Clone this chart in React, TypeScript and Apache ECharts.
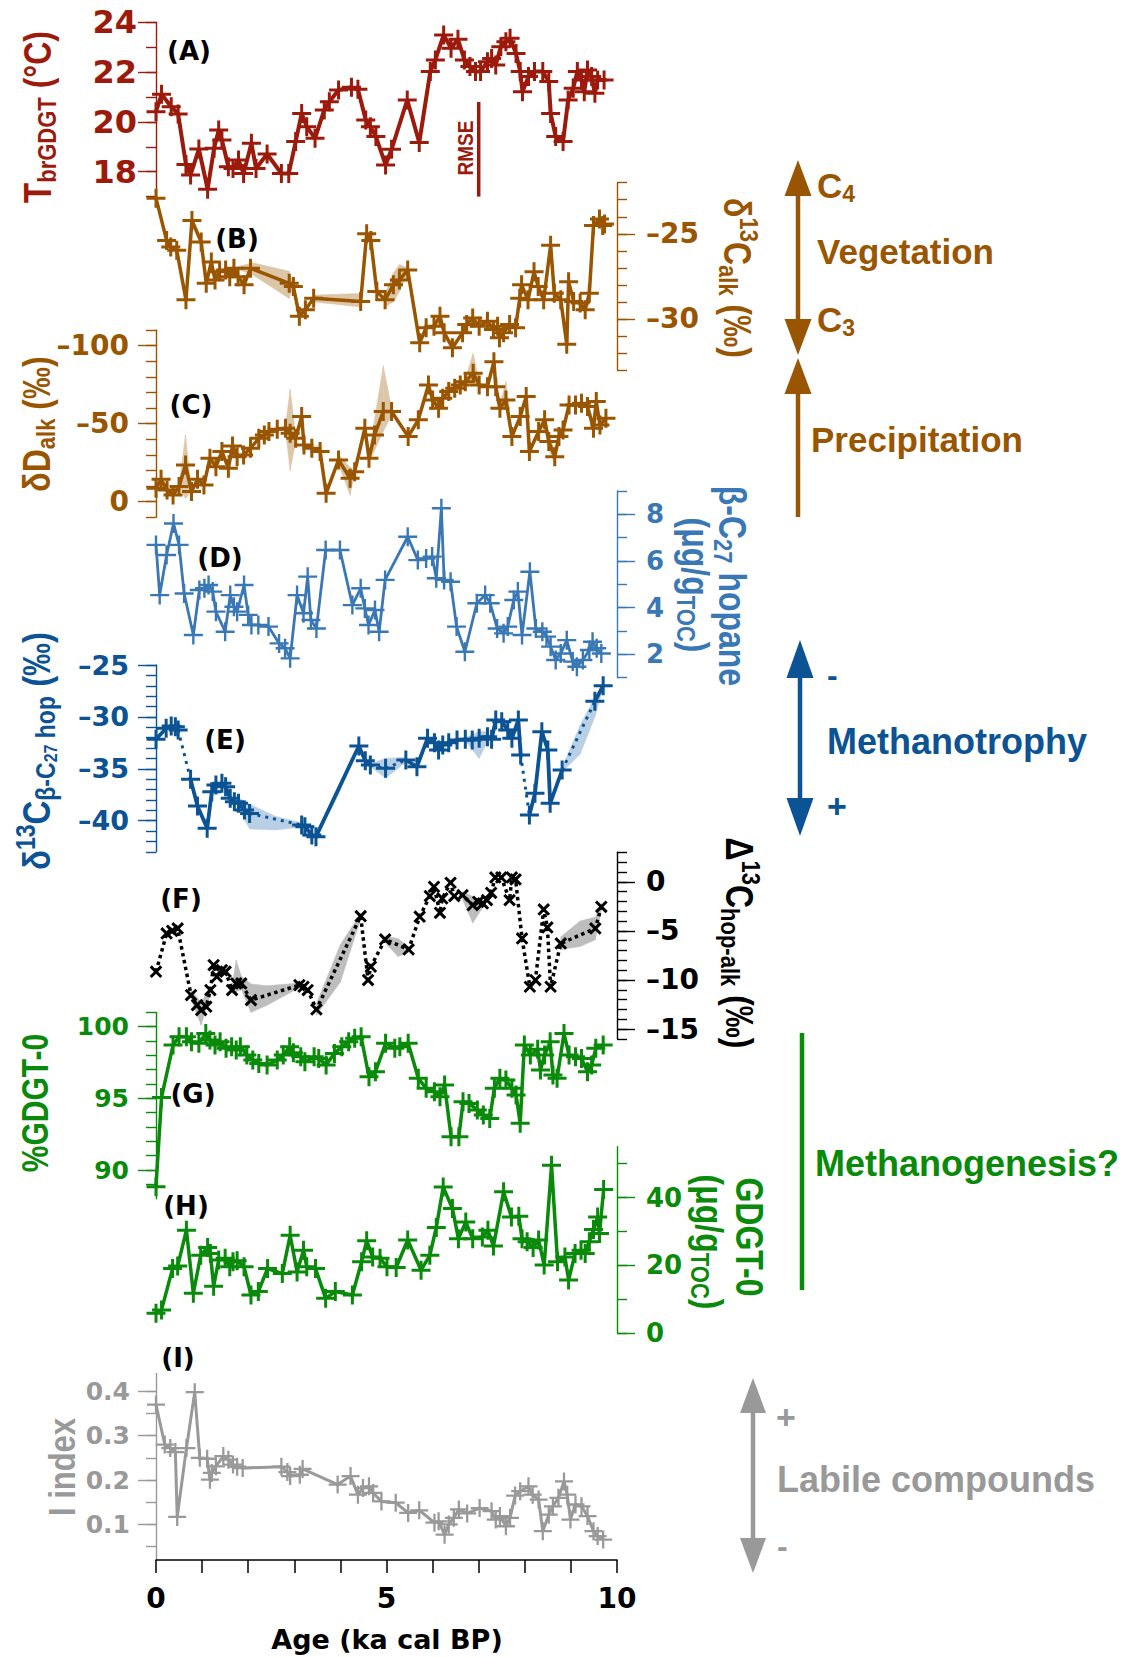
import React, { useEffect, useRef } from 'react';
import * as echarts from 'echarts';

const W = 1129;
const H = 1658;

// ---------- data (age ka cal BP, value) ----------
const A_DATA = [[0.00,20.41],[0.12,21.11],[0.33,20.61],[0.48,20.32],[0.65,18.29],[0.75,17.87],[0.93,18.91],[1.12,17.30],[1.26,18.94],[1.36,19.67],[1.43,19.27],[1.57,18.20],[1.67,18.13],[1.79,18.47],[1.90,17.93],[2.07,19.14],[2.17,18.13],[2.41,18.71],[2.72,17.93],[2.88,17.93],[3.03,19.21],[3.16,20.34],[3.27,19.81],[3.45,19.34],[3.65,20.48],[3.76,20.81],[3.96,21.28],[4.24,21.39],[4.38,21.31],[4.55,20.08],[4.65,19.81],[4.77,19.41],[4.98,18.27],[5.11,18.90],[5.45,20.88],[5.71,19.17],[5.95,22.02],[6.06,22.49],[6.24,23.49],[6.40,22.96],[6.55,23.32],[6.69,22.49],[6.81,22.22],[6.93,22.02],[7.04,22.02],[7.19,22.42],[7.28,22.55],[7.37,22.29],[7.48,23.02],[7.59,23.22],[7.68,23.36],[7.81,22.75],[7.90,22.02],[7.95,21.21],[8.08,21.82],[8.21,22.02],[8.39,22.02],[8.52,21.62],[8.56,20.34],[8.67,19.41],[8.83,19.21],[8.94,20.88],[9.05,21.35],[9.14,22.02],[9.23,21.68],[9.29,21.21],[9.36,22.08],[9.45,21.82],[9.52,21.15],[9.58,21.68],[9.72,21.68]];
const RMSE_AGE = [7.0, 7.0];
const RMSE_VAL = [20.8, 17.0];

const B_DATA = [[0.00,-22.91],[0.23,-25.39],[0.32,-25.78],[0.45,-25.97],[0.65,-28.88],[0.78,-24.22],[0.98,-25.48],[1.09,-27.91],[1.20,-26.65],[1.28,-27.71],[1.38,-27.23],[1.51,-27.13],[1.60,-27.52],[1.69,-27.03],[1.78,-27.52],[1.91,-28.00],[2.05,-27.03],[2.89,-27.91],[2.98,-28.10],[3.11,-29.84],[3.24,-29.46],[3.42,-28.78],[4.44,-28.97],[4.57,-25.00],[4.66,-25.39],[4.79,-28.39],[4.97,-28.88],[5.15,-28.00],[5.28,-27.71],[5.46,-27.13],[5.72,-31.40],[5.86,-30.52],[6.03,-30.43],[6.16,-29.84],[6.25,-30.81],[6.43,-31.69],[6.65,-30.81],[6.74,-30.33],[6.87,-29.94],[7.01,-30.43],[7.19,-30.14],[7.32,-30.62],[7.41,-30.43],[7.45,-31.10],[7.54,-30.81],[7.67,-30.33],[7.80,-30.52],[7.89,-28.78],[7.93,-28.00],[8.07,-28.88],[8.20,-27.23],[8.29,-28.10],[8.41,-28.88],[8.56,-25.68],[8.64,-28.49],[8.78,-28.88],[8.91,-31.49],[8.95,-27.81],[9.06,-28.97],[9.20,-29.07],[9.31,-29.46],[9.40,-28.49],[9.49,-24.52],[9.62,-24.13],[9.69,-24.52],[9.73,-24.42]];
const B_BAND = [[1.69,-27.0,-27.0],[2.09,-26.7,-27.4],[2.89,-27.2,-28.8],[2.98,-28.1,-28.1],null,[3.42,-28.6,-29.0],[4.44,-28.5,-29.3],null,[4.97,-28.5,-29.3],[5.15,-27.3,-29.0],[5.28,-26.8,-28.4],[5.46,-27.0,-27.3]];

const C_DATA = [[0.00,-8.5],[0.11,-14.3],[0.24,-7.5],[0.37,-4.3],[0.50,-9.6],[0.64,-23.5],[0.77,-6.4],[0.90,-14.3],[1.04,-10.7],[1.17,-27.8],[1.30,-22.4],[1.43,-32.1],[1.57,-21.4],[1.66,-35.7],[1.76,-28.8],[1.90,-29.9],[2.05,-34.2],[2.23,-40.6],[2.35,-42.7],[2.45,-44.9],[2.63,-46.4],[2.81,-47.0],[2.91,-43.8],[3.03,-40.6],[3.16,-54.5],[3.21,-36.3],[3.38,-34.2],[3.56,-32.1],[3.69,-5.3],[3.96,-26.7],[4.21,-15.0],[4.31,-19.2],[4.53,-47.0],[4.62,-27.8],[4.74,-42.7],[4.93,-57.7],[5.11,-57.7],[5.47,-41.7],[5.69,-52.4],[5.91,-74.8],[6.00,-65.2],[6.13,-59.8],[6.22,-66.2],[6.35,-70.5],[6.48,-72.6],[6.60,-74.8],[6.71,-76.9],[6.88,-82.3],[7.01,-74.8],[7.19,-73.7],[7.33,-89.7],[7.37,-73.7],[7.46,-59.8],[7.59,-65.2],[7.72,-41.7],[7.90,-54.5],[8.03,-67.3],[8.10,-32.1],[8.30,-44.9],[8.43,-52.4],[8.52,-38.5],[8.65,-28.8],[8.74,-41.7],[8.83,-45.9],[8.96,-62.0],[9.10,-62.0],[9.23,-63.0],[9.36,-60.9],[9.49,-47.0],[9.55,-64.1],[9.63,-49.1],[9.76,-53.4]];
const C_BAND = [[0.50,-9.6,-9.6],[0.64,-2,-43],[0.77,-6.4,-6.4],null,[2.81,-45,-49],[2.91,-20,-72],[3.03,-38,-43],null,[3.96,-24,-30],[4.21,-4,-22],[4.31,-18,-20],null,[4.62,-25,-31],[4.93,-45,-87],[5.11,-55,-60],null,[6.71,-75,-79],[6.88,-78,-95],[7.01,-73,-77],null,[7.46,-57,-62],[7.59,-62,-77],[7.72,-40,-44],null,[8.43,-48,-56],[8.52,-33,-44],[8.65,-24,-33],null,[9.36,-58,-63],[9.49,-43,-52],[9.55,-62,-68]];

const D_DATA = [[0.00,6.69],[0.08,4.54],[0.23,6.26],[0.38,7.61],[0.50,6.69],[0.61,4.61],[0.81,2.83],[0.94,4.76],[1.05,4.83],[1.14,4.97],[1.23,4.69],[1.30,3.83],[1.50,2.97],[1.61,4.54],[1.69,4.04],[1.76,3.83],[1.91,4.97],[2.00,3.69],[2.07,3.26],[2.22,3.26],[2.44,3.19],[2.67,2.47],[2.80,2.26],[2.91,1.83],[3.06,4.54],[3.20,3.76],[3.29,5.33],[3.36,3.47],[3.48,3.11],[3.68,6.47],[3.99,6.47],[4.26,4.11],[4.44,4.83],[4.53,3.97],[4.61,3.26],[4.75,3.90],[4.84,2.97],[4.97,5.19],[5.46,7.04],[5.68,6.04],[5.86,6.11],[5.99,6.19],[6.08,5.26],[6.19,8.26],[6.25,5.19],[6.39,5.11],[6.52,3.19],[6.70,2.11],[6.96,4.19],[7.14,4.54],[7.25,4.19],[7.40,3.11],[7.54,2.90],[7.63,3.19],[7.76,4.33],[7.85,4.69],[7.94,2.83],[8.11,5.54],[8.24,3.11],[8.38,2.97],[8.47,2.76],[8.56,2.33],[8.67,1.76],[8.78,2.04],[8.91,2.61],[9.04,1.69],[9.13,1.47],[9.26,1.76],[9.40,2.19],[9.47,2.54],[9.56,2.26],[9.66,2.04]];

const E_DATA = [[0.00,-32.16],[0.22,-31.10],[0.33,-30.88],[0.42,-30.94],[0.48,-31.26],[0.75,-36.02],[0.90,-38.59],[1.11,-40.74],[1.21,-37.21],[1.30,-36.56],[1.43,-36.40],[1.51,-36.73],[1.61,-37.85],[1.70,-38.17],[1.79,-38.33],[1.92,-38.97],[2.03,-39.30],[3.16,-40.42],[3.23,-40.58],[3.38,-41.38],[3.47,-41.54],[4.40,-32.81],[4.54,-34.22],[4.65,-34.64],[4.98,-34.96],[5.42,-34.16],[5.66,-34.80],[5.89,-32.07],[6.04,-32.48],[6.13,-33.19],[6.22,-32.71],[6.35,-32.48],[6.53,-32.23],[6.71,-32.16],[6.86,-32.23],[7.01,-32.07],[7.19,-31.91],[7.28,-32.16],[7.37,-30.30],[7.50,-30.46],[7.63,-31.26],[7.72,-32.07],[7.86,-30.30],[7.91,-33.67],[8.10,-39.46],[8.22,-37.37],[8.37,-31.42],[8.50,-33.19],[8.55,-38.33],[8.81,-35.12],[9.52,-28.50],[9.70,-27.00]];
const E_DOTTED_AFTER = [4, 16, 23, 24, 43, 49];
const E_BAND = [[1.79,-37.8,-38.8],[2.03,-38.4,-40.8],[2.6,-39.6,-40.9],[3.16,-40.2,-40.6],null,[3.47,-41.4,-41.6],[3.95,-36.9,-37.6],[4.40,-32.7,-32.9],null,[4.65,-34.5,-34.8],[4.98,-34.0,-35.9],[5.42,-33.9,-34.4],null,[6.71,-32.0,-32.3],[7.01,-31.4,-34.0],[7.19,-31.4,-32.4],null,[8.81,-34.9,-35.3],[9.2,-30.8,-33.6],[9.52,-28.1,-30.0],[9.70,-26.8,-27.2]];

const F_DATA = [[0.00,-9.16],[0.23,-5.26],[0.35,-4.99],[0.47,-4.75],[0.76,-11.54],[0.89,-12.56],[0.98,-13.06],[1.09,-12.72],[1.18,-11.03],[1.25,-8.48],[1.32,-9.67],[1.43,-8.99],[1.51,-9.16],[1.65,-11.03],[1.74,-10.35],[1.85,-10.35],[2.06,-12.05],[3.11,-10.52],[3.20,-10.69],[3.29,-11.03],[3.48,-13.00],[4.44,-3.50],[4.60,-10.01],[4.66,-8.65],[4.97,-5.87],[5.48,-6.89],[5.72,-3.56],[5.94,-1.46],[6.03,-0.51],[6.16,-3.16],[6.21,-1.70],[6.39,-0.10],[6.47,-1.46],[6.65,-1.36],[6.87,-2.38],[6.99,-2.04],[7.09,-2.21],[7.18,-1.87],[7.27,-1.12],[7.36,0.44],[7.49,0.44],[7.67,-1.87],[7.72,0.44],[7.80,0.24],[7.94,-5.77],[8.11,-10.69],[8.23,-10.01],[8.41,-2.82],[8.49,-4.65],[8.56,-10.69],[8.78,-6.28],[9.53,-4.75],[9.66,-2.55]];
const F_BAND = [[0.76,-11.0,-12.0],[0.98,-12.3,-14.6],[1.18,-10.6,-11.5],null,[1.65,-10.6,-11.4],[1.74,-8.0,-11.2],[1.85,-9.6,-11.0],[2.06,-10.4,-13.3],[2.4,-10.6,-12.6],[3.11,-10.3,-10.8],null,[3.48,-12.4,-13.6],[4.0,-6.4,-10.2],[4.44,-3.2,-3.8],null,[4.97,-5.5,-6.2],[5.25,-5.8,-7.6],[5.48,-6.6,-7.2],null,[6.65,-1.0,-1.8],[6.87,-1.5,-4.2],[7.09,-1.9,-2.6],null,[8.78,-5.6,-6.9],[9.2,-4.0,-6.6],[9.53,-3.6,-5.9],[9.66,-2.2,-2.9]];

const G_DATA = [[0.00,88.84],[0.12,95.07],[0.37,98.72],[0.50,99.30],[0.66,99.30],[0.77,98.95],[0.93,98.84],[1.08,99.53],[1.17,99.07],[1.28,98.72],[1.39,98.95],[1.52,98.49],[1.64,98.60],[1.74,98.37],[1.83,98.60],[1.97,98.02],[2.10,97.67],[2.23,97.44],[2.41,97.33],[2.63,97.67],[2.76,98.02],[2.90,98.60],[2.98,98.19],[3.14,97.91],[3.23,97.56],[3.43,97.91],[3.53,97.79],[3.69,97.33],[3.87,98.14],[4.03,98.60],[4.18,98.95],[4.31,99.19],[4.45,99.30],[4.62,96.51],[4.76,96.86],[4.98,98.84],[5.18,98.49],[5.29,98.60],[5.47,98.84],[5.69,96.40],[5.86,95.70],[6.04,95.47],[6.16,95.12],[6.26,95.93],[6.40,92.33],[6.57,92.33],[6.66,94.77],[6.79,94.65],[6.97,94.19],[7.10,93.84],[7.24,93.60],[7.34,95.70],[7.46,96.40],[7.59,96.28],[7.72,95.70],[7.81,95.23],[7.90,93.26],[7.99,98.72],[8.12,98.02],[8.28,98.42],[8.34,96.98],[8.43,98.02],[8.55,98.95],[8.61,96.63],[8.70,96.40],[8.85,99.53],[8.96,98.02],[9.10,97.91],[9.23,97.79],[9.36,96.86],[9.45,97.33],[9.54,98.49],[9.70,98.72]];

const H_DATA = [[0.00,5.9],[0.12,6.9],[0.36,19.1],[0.47,19.8],[0.66,30.4],[0.81,11.8],[0.97,23.0],[1.12,25.3],[1.18,23.5],[1.25,13.9],[1.36,21.6],[1.50,22.1],[1.60,19.6],[1.67,21.1],[1.76,21.4],[1.91,19.6],[2.06,11.3],[2.22,12.3],[2.42,19.1],[2.74,17.6],[2.91,28.9],[3.06,18.1],[3.20,24.5],[3.27,19.6],[3.46,19.1],[3.68,10.3],[3.89,12.3],[4.26,11.3],[4.46,21.1],[4.57,27.3],[4.70,22.5],[4.86,22.1],[5.01,19.6],[5.21,19.4],[5.46,27.5],[5.75,18.6],[5.94,23.0],[6.08,31.2],[6.23,43.1],[6.43,36.8],[6.56,27.9],[6.72,32.8],[6.87,27.9],[7.08,28.4],[7.20,30.4],[7.32,25.7],[7.54,41.7],[7.71,34.3],[7.87,34.5],[7.94,27.9],[8.05,27.0],[8.18,25.3],[8.30,27.5],[8.42,20.1],[8.58,49.5],[8.71,21.1],[8.87,22.5],[8.95,15.7],[9.09,23.5],[9.22,24.5],[9.31,23.5],[9.40,27.0],[9.49,30.6],[9.58,34.3],[9.62,29.4],[9.71,42.4]];

const I_DATA = [[0.00,0.370],[0.19,0.280],[0.31,0.272],[0.42,0.263],[0.46,0.117],[0.66,0.272],[0.84,0.398],[0.95,0.250],[1.11,0.248],[1.17,0.201],[1.21,0.216],[1.30,0.231],[1.46,0.254],[1.57,0.246],[1.67,0.235],[1.76,0.230],[1.88,0.227],[2.72,0.230],[2.85,0.218],[2.91,0.209],[3.12,0.212],[3.18,0.225],[3.94,0.190],[4.22,0.209],[4.38,0.167],[4.49,0.182],[4.62,0.186],[4.71,0.171],[4.89,0.152],[5.20,0.149],[5.47,0.126],[5.71,0.132],[6.04,0.104],[6.13,0.107],[6.26,0.077],[6.35,0.100],[6.46,0.115],[6.57,0.134],[6.75,0.125],[7.02,0.137],[7.28,0.130],[7.37,0.111],[7.46,0.119],[7.59,0.096],[7.68,0.115],[7.79,0.165],[7.90,0.175],[8.08,0.186],[8.17,0.167],[8.30,0.156],[8.39,0.085],[8.52,0.122],[8.61,0.141],[8.73,0.160],[8.85,0.197],[8.92,0.167],[8.99,0.111],[9.10,0.145],[9.23,0.141],[9.36,0.119],[9.49,0.085],[9.58,0.074],[9.70,0.066]];

// ---------- tick labels ----------
const AGE_TICKS = [0,1,2,3,4,5,6,7,8,9,10];
const AGE_LABELS = [0,5,10];
const A_TICKS = [18,20,22,24];
const B_TICKS = [-30,-25];
const C_TICKS = [-100,-50,0];
const D_TICKS = [2,4,6,8];
const E_TICKS = [-40,-35,-30,-25];
const F_TICKS = [-15,-10,-5,0];
const G_TICKS = [90,95,100];
const H_TICKS = [0,20,40];
const I_TICKS = [0.1,0.2,0.3,0.4];

// ---------- styles ----------
const RED = '#9c1a0c';
const BROWN = '#995500';
const BLUE_D = '#3a78b5';
const BLUE_E = '#0b5394';
const GREEN = '#0a8a0a';
const GREY = '#999999';
const BLACK = '#000000';

const GX = 156, GW = 461;

const range = (a: number, b: number, s: number) => {
  const out: number[] = [];
  for (let v = a; v <= b + 1e-9; v += s) out.push(Math.round(v * 1000) / 1000);
  return out;
};

const PANELS = [
  { top: 22.3, bottom: 196.6, min: 17, max: 24, pos: 'left', color: RED, majors: A_TICKS, minors: range(17, 24, 1), inverse: false, margin: 19, fs: 32 },
  { top: 182.7, bottom: 370, min: -33, max: -22, pos: 'right', color: BROWN, majors: B_TICKS, minors: range(-33, -22, 1), inverse: false, margin: 29, fs: 28 },
  { top: 330, bottom: 517.2, min: -110, max: 10, pos: 'left', color: BROWN, majors: C_TICKS, minors: range(-110, 10, 10), inverse: true, margin: 27, fs: 28 },
  { top: 491, bottom: 677.7, min: 1, max: 9, pos: 'right', color: BLUE_D, majors: D_TICKS, minors: range(1, 9, 1), inverse: false, margin: 29, fs: 26 },
  { top: 665, bottom: 851.8, min: -43, max: -25, pos: 'left', color: BLUE_E, majors: E_TICKS, minors: range(-43, -25, 1), inverse: false, margin: 27, fs: 27 },
  { top: 852.3, bottom: 1038.9, min: -16, max: 3, pos: 'right', color: BLACK, majors: F_TICKS, minors: range(-16, 3, 1), inverse: false, margin: 29, fs: 28 },
  { top: 1012.4, bottom: 1198.7, min: 88, max: 101, pos: 'left', color: GREEN, majors: G_TICKS, minors: range(89, 101, 1), inverse: false, margin: 27, fs: 25 },
  { top: 1146.7, bottom: 1333.3, min: 0, max: 55, pos: 'right', color: GREEN, majors: H_TICKS, minors: range(0, 50, 10), inverse: false, margin: 29, fs: 26 },
  { top: 1373.5, bottom: 1560, min: 0.02, max: 0.44, pos: 'left', color: GREY, majors: I_TICKS, minors: range(0.05, 0.4, 0.05), inverse: false, margin: 26, fs: 25 },
];

const PLUS = 'path://M8,0h3v8h8v3h-8v8h-3v-8h-8v-3h8z';
const PLUS_MED = 'path://M8.3,0h2.4v8.3h8.3v2.4h-8.3v8.3h-2.4v-8.3h-8.3v-2.4h8.3z';
const PLUS_BOLD = 'path://M7.6,0h3.8v7.6h7.6v3.8h-7.6v7.6h-3.8v-7.6h-7.6v-3.8h7.6z';

const fmt = (v: number) => (v < 0 ? '\u2013' + Math.abs(v) : String(v));

let measureCtx: CanvasRenderingContext2D | null = null;
const tw = (t: string, size: number, fam: string) => {
  if (!measureCtx) measureCtx = document.createElement('canvas').getContext('2d');
  measureCtx!.font = `bold ${size}px "${fam}"`;
  return measureCtx!.measureText(t).width;
};

type Piece = [string, number, number];
function label(pieces: Piece[], o: { x: number; y: number; rot?: number; color: string; fam?: string; align?: 'left' | 'center'; sx?: number; sy?: number }) {
  const fam = o.fam || 'Liberation Sans';
  let w = 0;
  const kids: any[] = [];
  for (const [t, s, dy] of pieces) {
    kids.push({
      type: 'text', x: w, y: dy,
      style: { text: t, fontSize: s, fontWeight: 'bold', fontFamily: fam, fill: o.color, align: 'left', verticalAlign: 'middle', textAlign: 'left', textVerticalAlign: 'middle' },
    });
    w += tw(t, s, fam);
  }
  const off = o.align === 'left' ? 0 : -w / 2;
  kids.forEach((k) => (k.x += off));
  return { type: 'group', x: o.x, y: o.y, rotation: o.rot || 0, scaleX: o.sx || 1, scaleY: o.sy || 1, silent: true, children: kids };
}

function bandSeries(idx: number, band: (number[] | null)[], color: string) {
  const quads: number[][] = [];
  for (let i = 0; i < band.length - 1; i++) {
    const a = band[i], b = band[i + 1];
    if (!a || !b) continue;
    quads.push([a[0], a[1], a[2], b[0], b[1], b[2]]);
  }
  return {
    type: 'custom', xAxisIndex: idx, yAxisIndex: idx * 2, z: 1, silent: true, clip: false,
    data: quads,
    renderItem: (_p: any, api: any) => {
      const v = (k: number) => api.value(k);
      const pts = [api.coord([v(0), v(1)]), api.coord([v(3), v(4)]), api.coord([v(3), v(5)]), api.coord([v(0), v(2)])];
      return { type: 'polygon', shape: { points: pts }, style: { fill: color, stroke: color, lineWidth: 0.5 } };
    },
  };
}

function lineSeries(idx: number, data: any[], color: string, extra: any = {}) {
  return {
    type: 'line', xAxisIndex: idx, yAxisIndex: idx * 2, data, silent: true, clip: false, z: 3,
    symbol: PLUS, symbolSize: 19, showAllSymbol: true,
    lineStyle: { color, width: 3.5 }, itemStyle: { color },
    ...extra,
  };
}

function buildOption() {
  const grid = PANELS.map((p) => ({ left: GX, width: GW, top: p.top, height: p.bottom - p.top, containLabel: false, outerBoundsMode: 'none' }));
  const xAxis = PANELS.map((_p, i) => ({
    type: 'value', gridIndex: i, min: 0, max: 10, show: i === 8, position: 'bottom',
    axisLine: { show: true, lineStyle: { color: BLACK, width: 1.5 } },
    axisTick: { show: true, customValues: AGE_TICKS, length: 13, lineStyle: { color: BLACK, width: 1.5 } },
    axisLabel: { customValues: AGE_LABELS, fontFamily: 'DejaVu Sans', fontWeight: 'bold', fontSize: 28, color: BLACK, margin: 24 },
    splitLine: { show: false },
  }));
  const yAxis: any[] = [];
  PANELS.forEach((p, i) => {
    const common = { type: 'value', gridIndex: i, min: p.min, max: p.max, inverse: p.inverse, splitLine: { show: false } };
    yAxis.push({
      ...common,
      position: p.pos,
      axisLine: { show: true, onZero: false, lineStyle: { color: p.color, width: 1.4 } },
      axisTick: { show: true, customValues: p.majors, length: 18, lineStyle: { color: p.color, width: 1.4 } },
      axisLabel: { show: true, customValues: p.majors, formatter: fmt, color: p.color, fontFamily: 'DejaVu Sans', fontWeight: 'bold', fontSize: p.fs, margin: p.margin },
    });
    // minor ticks: placed on the opposite side slot, then shifted onto the same edge
    yAxis.push({
      ...common,
      position: p.pos === 'left' ? 'right' : 'left',
      offset: -GW,
      axisLine: { show: false, onZero: false },
      axisTick: { show: true, inside: true, customValues: p.minors, length: 10, lineStyle: { color: p.color, width: 1.4 } },
      axisLabel: { show: false },
    });
  });

  // E: solid segments with breaks + dotted connectors
  const eSolid: any[] = [];
  const eDotted: any[] = [];
  E_DATA.forEach((d, i) => {
    eSolid.push(d);
    if (E_DOTTED_AFTER.includes(i) && i + 1 < E_DATA.length) {
      eSolid.push([d[0], '-']);
      eDotted.push(d, E_DATA[i + 1], [d[0], '-']);
    }
  });

  const series: any[] = [
    lineSeries(0, A_DATA, RED, { lineStyle: { color: RED, width: 4 } }),
    { type: 'line', xAxisIndex: 0, yAxisIndex: 0, silent: true, clip: false, symbol: 'none', data: RMSE_AGE.map((a, i) => [a, RMSE_VAL[i]]), lineStyle: { color: RED, width: 3.5 } },
    bandSeries(1, B_BAND, '#dcc6a8'),
    lineSeries(1, B_DATA, BROWN),
    bandSeries(2, C_BAND, '#dcc6a8'),
    lineSeries(2, C_DATA, BROWN),
    lineSeries(3, D_DATA, BLUE_D, { symbol: PLUS_MED, lineStyle: { color: BLUE_D, width: 2.8 } }),
    bandSeries(4, E_BAND, '#b9cfe5'),
    { type: 'line', xAxisIndex: 4, yAxisIndex: 8, silent: true, clip: false, z: 2, symbol: 'none', data: eDotted, lineStyle: { color: BLUE_E, width: 3, type: [3, 5] } },
    lineSeries(4, eSolid, BLUE_E, { lineStyle: { color: BLUE_E, width: 3.8 } }),
    bandSeries(5, F_BAND, '#bdbdbd'),
    lineSeries(5, F_DATA, BLACK, { symbol: PLUS_BOLD, symbolSize: 15, symbolRotate: 45, lineStyle: { color: BLACK, width: 3.5, type: [3.5, 3.5] } }),
    lineSeries(6, G_DATA, GREEN),
    lineSeries(7, H_DATA, GREEN),
    lineSeries(8, I_DATA, GREY, { symbol: PLUS_MED, symbolSize: 18, lineStyle: { color: GREY, width: 3 } }),
  ];

  const DV = 'DejaVu Sans';
  const ccw = Math.PI / 2;
  const cw = -Math.PI / 2;
  const SY = 1.2;
  const graphic: any[] = [
    label([['(A)', 26, 0]], { x: 189, y: 51, color: BLACK, fam: DV }),
    label([['(B)', 26, 0]], { x: 237, y: 239, color: BLACK, fam: DV }),
    label([['(C)', 26, 0]], { x: 191, y: 405, color: BLACK, fam: DV }),
    label([['(D)', 26, 0]], { x: 220, y: 558, color: BLACK, fam: DV }),
    label([['(E)', 26, 0]], { x: 225, y: 740, color: BLACK, fam: DV }),
    label([['(F)', 26, 0]], { x: 181, y: 899, color: BLACK, fam: DV }),
    label([['(G)', 26, 0]], { x: 193, y: 1094, color: BLACK, fam: DV }),
    label([['(H)', 26, 0]], { x: 186, y: 1206, color: BLACK, fam: DV }),
    label([['(I)', 26, 0]], { x: 178, y: 1358, color: BLACK, fam: DV }),
    label([['RMSE', 19, 0]], { x: 465, y: 148, rot: ccw, color: RED, sy: SY }),
    label([['T', 33, 0], ['brGDGT', 22, 8], [' (°C)', 32, 0]], { x: 37, y: 117, rot: ccw, color: RED, sy: SY }),
    label([['δ', 32, 0], ['13', 22, -9], ['C', 32, 0], ['alk', 22, 8], [' (‰)', 32, 0]], { x: 738, y: 278, rot: cw, color: BROWN, sy: SY }),
    label([['δ', 32, 0], ['D', 32, 0], ['alk', 22, 8], [' (‰)', 32, 0]], { x: 36, y: 424, rot: ccw, color: BROWN, sy: SY }),
    label([['β-C', 32, 0], ['27', 22, 8], [' hopane', 32, 0]], { x: 733, y: 586, rot: cw, color: BLUE_D, sy: SY }),
    label([['(μg/g', 32, 0], ['TOC', 22, 8], [')', 32, 0]], { x: 696, y: 585, rot: cw, color: BLUE_D, sy: SY }),
    label([['δ', 33, 0], ['13', 23, -9], ['C', 33, 0], ['β-C', 23, 8], ['27', 16, 12], [' hop', 23, 8], [' (‰)', 33, 0]], { x: 36, y: 751, rot: ccw, color: BLUE_E, sy: SY }),
    label([['Δ', 32, 0], ['13', 22, -9], ['C', 32, 0], ['hop-alk', 22, 8], [' (‰)', 32, 0]], { x: 740, y: 943, rot: cw, color: BLACK, sy: SY }),
    label([['%GDGT-0', 30, 0]], { x: 36, y: 1103, rot: ccw, color: GREEN, sy: SY }),
    label([['GDGT-0', 32, 0]], { x: 750, y: 1237, rot: cw, color: GREEN, sy: SY }),
    label([['(μg/g', 32, 0], ['TOC', 22, 8], [')', 32, 0]], { x: 710, y: 1242, rot: cw, color: GREEN, sy: SY }),
    label([['I index', 31, 0]], { x: 62, y: 1467, rot: ccw, color: GREY, sy: SY }),
    label([['Age (ka cal BP)', 27, 0]], { x: 387, y: 1639, color: BLACK, fam: DV }),

    { type: 'line', silent: true, shape: { x1: 798, y1: 190, x2: 798, y2: 325 }, style: { stroke: BROWN, lineWidth: 4.5 } },
    { type: 'polygon', silent: true, shape: { points: [[798, 160], [784.5, 196], [811.5, 196]] }, style: { fill: BROWN } },
    { type: 'polygon', silent: true, shape: { points: [[798, 355], [784.5, 319], [811.5, 319]] }, style: { fill: BROWN } },
    { type: 'line', silent: true, shape: { x1: 798, y1: 390, x2: 798, y2: 517 }, style: { stroke: BROWN, lineWidth: 4.5 } },
    { type: 'polygon', silent: true, shape: { points: [[798, 358], [784.5, 394], [811.5, 394]] }, style: { fill: BROWN } },
    label([['C', 35, 0], ['4', 23, 9]], { x: 817, y: 185, color: BROWN, align: 'left' }),
    label([['Vegetation', 35, 0]], { x: 817, y: 251, color: BROWN, align: 'left' }),
    label([['C', 35, 0], ['3', 23, 9]], { x: 817, y: 319, color: BROWN, align: 'left' }),
    label([['Precipitation', 35, 0]], { x: 811, y: 439, color: BROWN, align: 'left' }),

    { type: 'line', silent: true, shape: { x1: 800, y1: 670, x2: 800, y2: 806 }, style: { stroke: BLUE_E, lineWidth: 4.5 } },
    { type: 'polygon', silent: true, shape: { points: [[800, 640], [786.5, 678], [813.5, 678]] }, style: { fill: BLUE_E } },
    { type: 'polygon', silent: true, shape: { points: [[800, 836], [786.5, 798], [813.5, 798]] }, style: { fill: BLUE_E } },
    label([['-', 32, 0]], { x: 827, y: 675, color: BLUE_E, align: 'left' }),
    label([['Methanotrophy', 36, 0]], { x: 827, y: 741, color: BLUE_E, align: 'left' }),
    label([['+', 34, 0]], { x: 827, y: 806, color: BLUE_E, align: 'left' }),

    { type: 'line', silent: true, shape: { x1: 802, y1: 1033, x2: 802, y2: 1290 }, style: { stroke: GREEN, lineWidth: 4.5 } },
    label([['Methanogenesis?', 36, 0]], { x: 815, y: 1163, color: GREEN, align: 'left' }),

    { type: 'line', silent: true, shape: { x1: 753, y1: 1405, x2: 753, y2: 1545 }, style: { stroke: GREY, lineWidth: 4.5 } },
    { type: 'polygon', silent: true, shape: { points: [[753, 1378], [740, 1413], [766, 1413]] }, style: { fill: GREY } },
    { type: 'polygon', silent: true, shape: { points: [[753, 1573], [740, 1538], [766, 1538]] }, style: { fill: GREY } },
    label([['+', 34, 0]], { x: 776, y: 1417, color: GREY, align: 'left' }),
    label([['Labile compounds', 36, 0]], { x: 777, y: 1479, color: GREY, align: 'left' }),
    label([['-', 32, 0]], { x: 777, y: 1546, color: GREY, align: 'left' }),
  ];

  return { animation: false, backgroundColor: '#ffffff', grid, xAxis, yAxis, series, graphic: { elements: graphic } };
}

export default function App() {
  const ref = useRef<HTMLDivElement>(null);
  useEffect(() => {
    if (!ref.current) return;
    const chart = echarts.init(ref.current, null, { renderer: 'svg', width: W, height: H });
    chart.setOption(buildOption() as any);
    return () => chart.dispose();
  }, []);
  return <div ref={ref} style={{ position: 'absolute', left: 0, top: 0, width: W, height: H, background: '#fff' }} />;
}
